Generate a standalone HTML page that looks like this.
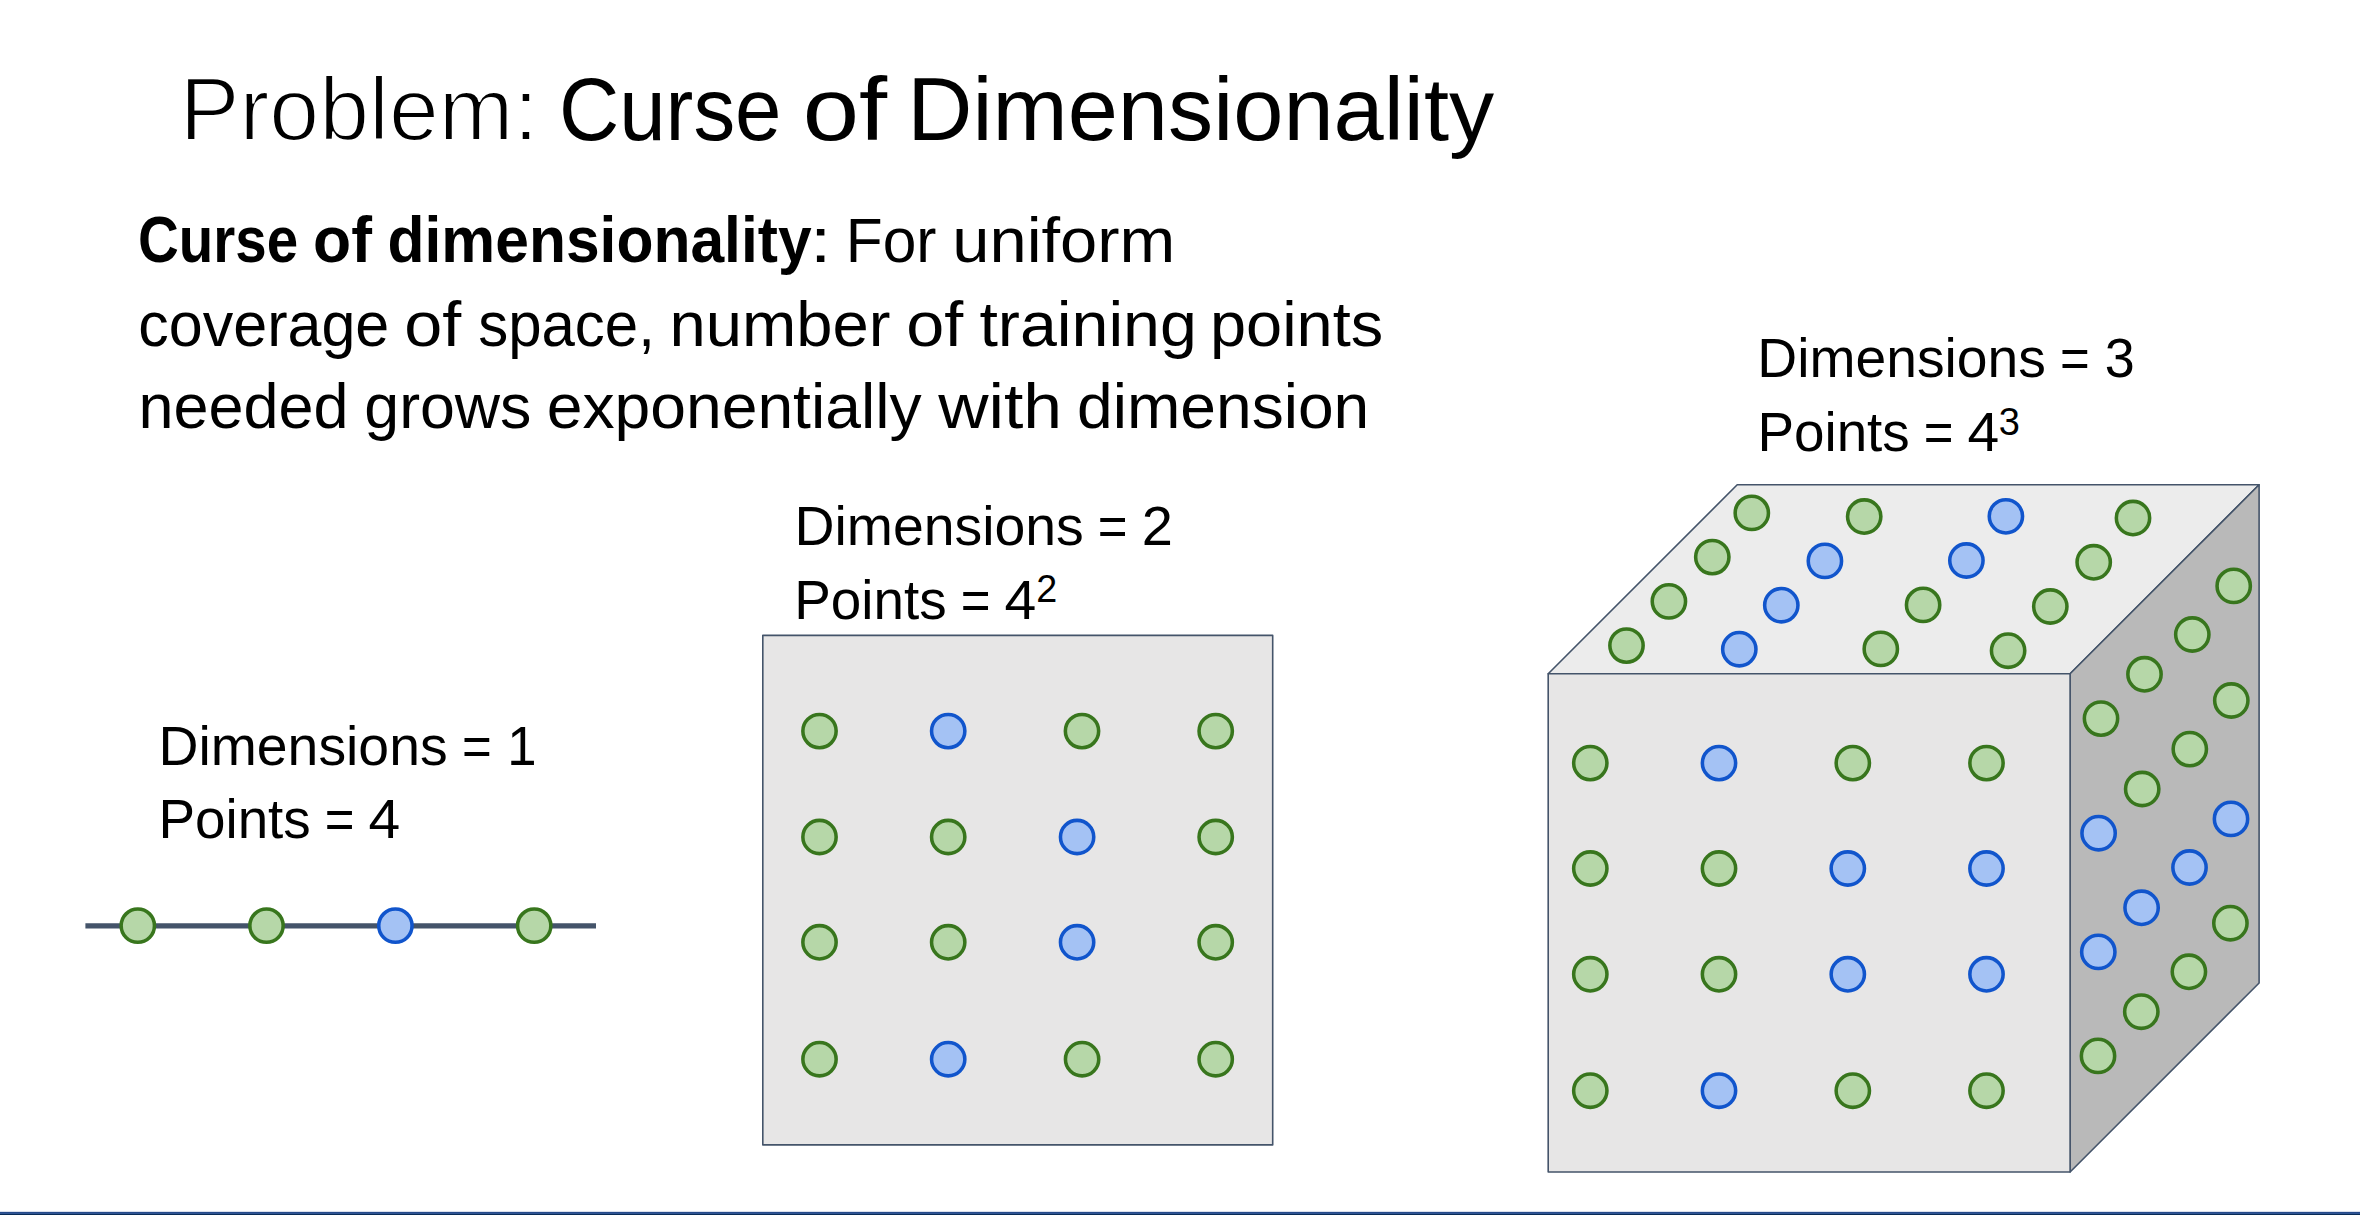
<!DOCTYPE html>
<html lang="en"><head><meta charset="utf-8"><title>Problem: Curse of Dimensionality</title>
<style>
html,body{margin:0;padding:0;background:#fff}
body{width:2360px;height:1215px;position:relative;overflow:hidden;font-family:"Liberation Sans",sans-serif}
</style></head><body>
<svg width="2360" height="1215" viewBox="0 0 2360 1215" style="position:absolute;left:0;top:0">
<line x1="85.4" y1="925.9" x2="596" y2="925.9" stroke="#44546a" stroke-width="5.4"/>
<circle cx="137.8" cy="925.65" r="16.65" fill="#b6d7a8" stroke="#38761d" stroke-width="3.55"/>
<circle cx="266.5" cy="925.65" r="16.65" fill="#b6d7a8" stroke="#38761d" stroke-width="3.55"/>
<circle cx="395.4" cy="925.65" r="16.65" fill="#a4c2f4" stroke="#1155cc" stroke-width="3.55"/>
<circle cx="534.2" cy="925.65" r="16.65" fill="#b6d7a8" stroke="#38761d" stroke-width="3.55"/>
<rect x="762.8" y="635.4" width="509.9" height="509.5" fill="#e7e6e6" stroke="#44546a" stroke-width="1.6" stroke-linejoin="round"/>
<circle cx="819.5" cy="731.1" r="16.65" fill="#b6d7a8" stroke="#38761d" stroke-width="3.55"/>
<circle cx="948.2" cy="731.1" r="16.65" fill="#a4c2f4" stroke="#1155cc" stroke-width="3.55"/>
<circle cx="1082" cy="731.1" r="16.65" fill="#b6d7a8" stroke="#38761d" stroke-width="3.55"/>
<circle cx="1215.7" cy="731.1" r="16.65" fill="#b6d7a8" stroke="#38761d" stroke-width="3.55"/>
<circle cx="819.5" cy="837" r="16.65" fill="#b6d7a8" stroke="#38761d" stroke-width="3.55"/>
<circle cx="948.2" cy="837" r="16.65" fill="#b6d7a8" stroke="#38761d" stroke-width="3.55"/>
<circle cx="1077.1" cy="837" r="16.65" fill="#a4c2f4" stroke="#1155cc" stroke-width="3.55"/>
<circle cx="1215.7" cy="837" r="16.65" fill="#b6d7a8" stroke="#38761d" stroke-width="3.55"/>
<circle cx="819.5" cy="942.3" r="16.65" fill="#b6d7a8" stroke="#38761d" stroke-width="3.55"/>
<circle cx="948.2" cy="942.3" r="16.65" fill="#b6d7a8" stroke="#38761d" stroke-width="3.55"/>
<circle cx="1077.1" cy="942.3" r="16.65" fill="#a4c2f4" stroke="#1155cc" stroke-width="3.55"/>
<circle cx="1215.7" cy="942.3" r="16.65" fill="#b6d7a8" stroke="#38761d" stroke-width="3.55"/>
<circle cx="819.5" cy="1059.2" r="16.65" fill="#b6d7a8" stroke="#38761d" stroke-width="3.55"/>
<circle cx="948.2" cy="1059.2" r="16.65" fill="#a4c2f4" stroke="#1155cc" stroke-width="3.55"/>
<circle cx="1082.1" cy="1059.2" r="16.65" fill="#b6d7a8" stroke="#38761d" stroke-width="3.55"/>
<circle cx="1215.7" cy="1059.2" r="16.65" fill="#b6d7a8" stroke="#38761d" stroke-width="3.55"/>
<polygon points="1548.2,673.75 1737.2,484.80 2259.1,484.80 2070.1,673.75" fill="#ececec" stroke="#44546a" stroke-width="1.6" stroke-linejoin="round"/>
<polygon points="2070.1,673.75 2259.1,484.80 2259.1,983.00 2070.1,1171.95" fill="#b9b9b9" stroke="#44546a" stroke-width="1.6" stroke-linejoin="round"/>
<rect x="1548.2" y="673.75" width="521.9" height="498.2" fill="#e7e6e6" stroke="#44546a" stroke-width="1.6" stroke-linejoin="round"/>
<circle cx="1590.3" cy="763.1" r="16.65" fill="#b6d7a8" stroke="#38761d" stroke-width="3.55"/>
<circle cx="1719" cy="763.1" r="16.65" fill="#a4c2f4" stroke="#1155cc" stroke-width="3.55"/>
<circle cx="1852.8" cy="763.1" r="16.65" fill="#b6d7a8" stroke="#38761d" stroke-width="3.55"/>
<circle cx="1986.5" cy="763.1" r="16.65" fill="#b6d7a8" stroke="#38761d" stroke-width="3.55"/>
<circle cx="1590.3" cy="868.5" r="16.65" fill="#b6d7a8" stroke="#38761d" stroke-width="3.55"/>
<circle cx="1719" cy="868.5" r="16.65" fill="#b6d7a8" stroke="#38761d" stroke-width="3.55"/>
<circle cx="1847.8" cy="868.5" r="16.65" fill="#a4c2f4" stroke="#1155cc" stroke-width="3.55"/>
<circle cx="1986.5" cy="868.5" r="16.65" fill="#a4c2f4" stroke="#1155cc" stroke-width="3.55"/>
<circle cx="1590.3" cy="974.3" r="16.65" fill="#b6d7a8" stroke="#38761d" stroke-width="3.55"/>
<circle cx="1719" cy="974.3" r="16.65" fill="#b6d7a8" stroke="#38761d" stroke-width="3.55"/>
<circle cx="1847.8" cy="974.3" r="16.65" fill="#a4c2f4" stroke="#1155cc" stroke-width="3.55"/>
<circle cx="1986.5" cy="974.3" r="16.65" fill="#a4c2f4" stroke="#1155cc" stroke-width="3.55"/>
<circle cx="1590.3" cy="1090.7" r="16.65" fill="#b6d7a8" stroke="#38761d" stroke-width="3.55"/>
<circle cx="1719" cy="1090.7" r="16.65" fill="#a4c2f4" stroke="#1155cc" stroke-width="3.55"/>
<circle cx="1852.8" cy="1090.7" r="16.65" fill="#b6d7a8" stroke="#38761d" stroke-width="3.55"/>
<circle cx="1986.5" cy="1090.7" r="16.65" fill="#b6d7a8" stroke="#38761d" stroke-width="3.55"/>
<circle cx="1751.8" cy="512.9" r="16.65" fill="#b6d7a8" stroke="#38761d" stroke-width="3.55"/>
<circle cx="1864.2" cy="516.5" r="16.65" fill="#b6d7a8" stroke="#38761d" stroke-width="3.55"/>
<circle cx="2005.9" cy="516.3" r="16.65" fill="#a4c2f4" stroke="#1155cc" stroke-width="3.55"/>
<circle cx="2133.0" cy="518.0" r="16.65" fill="#b6d7a8" stroke="#38761d" stroke-width="3.55"/>
<circle cx="1712.3" cy="557.1" r="16.65" fill="#b6d7a8" stroke="#38761d" stroke-width="3.55"/>
<circle cx="1824.9" cy="560.9" r="16.65" fill="#a4c2f4" stroke="#1155cc" stroke-width="3.55"/>
<circle cx="1966.4" cy="560.5" r="16.65" fill="#a4c2f4" stroke="#1155cc" stroke-width="3.55"/>
<circle cx="2093.7" cy="562.3" r="16.65" fill="#b6d7a8" stroke="#38761d" stroke-width="3.55"/>
<circle cx="1668.9" cy="601.4" r="16.65" fill="#b6d7a8" stroke="#38761d" stroke-width="3.55"/>
<circle cx="1781.3" cy="605.2" r="16.65" fill="#a4c2f4" stroke="#1155cc" stroke-width="3.55"/>
<circle cx="1923.1" cy="604.9" r="16.65" fill="#b6d7a8" stroke="#38761d" stroke-width="3.55"/>
<circle cx="2050.3" cy="606.5" r="16.65" fill="#b6d7a8" stroke="#38761d" stroke-width="3.55"/>
<circle cx="1626.5" cy="645.6" r="16.65" fill="#b6d7a8" stroke="#38761d" stroke-width="3.55"/>
<circle cx="1739.3" cy="649.2" r="16.65" fill="#a4c2f4" stroke="#1155cc" stroke-width="3.55"/>
<circle cx="1880.8" cy="648.9" r="16.65" fill="#b6d7a8" stroke="#38761d" stroke-width="3.55"/>
<circle cx="2008.1" cy="650.7" r="16.65" fill="#b6d7a8" stroke="#38761d" stroke-width="3.55"/>
<circle cx="2101.0" cy="718.6" r="16.65" fill="#b6d7a8" stroke="#38761d" stroke-width="3.55"/>
<circle cx="2144.5" cy="674.3" r="16.65" fill="#b6d7a8" stroke="#38761d" stroke-width="3.55"/>
<circle cx="2192.3" cy="634.5" r="16.65" fill="#b6d7a8" stroke="#38761d" stroke-width="3.55"/>
<circle cx="2233.7" cy="585.9" r="16.65" fill="#b6d7a8" stroke="#38761d" stroke-width="3.55"/>
<circle cx="2098.6" cy="833.2" r="16.65" fill="#a4c2f4" stroke="#1155cc" stroke-width="3.55"/>
<circle cx="2142.2" cy="789.0" r="16.65" fill="#b6d7a8" stroke="#38761d" stroke-width="3.55"/>
<circle cx="2189.8" cy="749.1" r="16.65" fill="#b6d7a8" stroke="#38761d" stroke-width="3.55"/>
<circle cx="2231.3" cy="700.5" r="16.65" fill="#b6d7a8" stroke="#38761d" stroke-width="3.55"/>
<circle cx="2098.3" cy="951.9" r="16.65" fill="#a4c2f4" stroke="#1155cc" stroke-width="3.55"/>
<circle cx="2141.6" cy="907.8" r="16.65" fill="#a4c2f4" stroke="#1155cc" stroke-width="3.55"/>
<circle cx="2189.5" cy="867.5" r="16.65" fill="#a4c2f4" stroke="#1155cc" stroke-width="3.55"/>
<circle cx="2231.0" cy="818.9" r="16.65" fill="#a4c2f4" stroke="#1155cc" stroke-width="3.55"/>
<circle cx="2098.0" cy="1055.9" r="16.65" fill="#b6d7a8" stroke="#38761d" stroke-width="3.55"/>
<circle cx="2141.3" cy="1011.7" r="16.65" fill="#b6d7a8" stroke="#38761d" stroke-width="3.55"/>
<circle cx="2188.9" cy="971.8" r="16.65" fill="#b6d7a8" stroke="#38761d" stroke-width="3.55"/>
<circle cx="2230.4" cy="923.2" r="16.65" fill="#b6d7a8" stroke="#38761d" stroke-width="3.55"/>
<g shape-rendering="crispEdges"><rect x="0" y="1211" width="2360" height="1" fill="#dadfec"/><rect x="0" y="1212" width="2360" height="1" fill="#254a8b"/><rect x="0" y="1213" width="2360" height="1" fill="#305494"/><rect x="0" y="1214" width="2360" height="1" fill="#082b56"/></g>
<g font-family="'Liberation Sans', sans-serif" fill="#000">
<text id="t1" y="139.9" font-size="89" font-weight="400" stroke="#fff" stroke-width="2"><tspan id="t1_0" x="179.71" textLength="358.62" lengthAdjust="spacingAndGlyphs">Problem:</tspan></text>
<text id="t2" y="139.7" font-size="89" font-weight="400"><tspan id="t2_0" x="558.89" textLength="222.66" lengthAdjust="spacingAndGlyphs">Curse</tspan> <tspan id="t2_1" x="802.73" textLength="84.35" lengthAdjust="spacingAndGlyphs">of</tspan> <tspan id="t2_2" x="907.29" textLength="586.79" lengthAdjust="spacingAndGlyphs">Dimensionality</tspan></text>
<text id="b1" y="261.9" font-size="64" font-weight="700"><tspan id="b1_0" x="138.01" textLength="160.07" lengthAdjust="spacingAndGlyphs">Curse</tspan> <tspan id="b1_1" x="313.04" textLength="58.88" lengthAdjust="spacingAndGlyphs">of</tspan> <tspan id="b1_2" x="387.56" textLength="424.06" lengthAdjust="spacingAndGlyphs">dimensionality</tspan></text>
<text id="b1c" y="261.9" font-size="63" font-weight="400"><tspan id="b1c_0" x="809.83" textLength="21.82" lengthAdjust="spacingAndGlyphs">:</tspan></text>
<text id="b1b" y="261.9" font-size="63" font-weight="400"><tspan id="b1b_0" x="845.87" textLength="90.62" lengthAdjust="spacingAndGlyphs">For</tspan> <tspan id="b1b_1" x="952.34" textLength="222.91" lengthAdjust="spacingAndGlyphs">uniform</tspan></text>
<text id="b2" y="346.0" font-size="63" font-weight="400"><tspan id="b2_0" x="138.3" textLength="250.99" lengthAdjust="spacingAndGlyphs">coverage</tspan> <tspan id="b2_1" x="404.16" textLength="57.03" lengthAdjust="spacingAndGlyphs">of</tspan> <tspan id="b2_2" x="478.16" textLength="176.7" lengthAdjust="spacingAndGlyphs">space,</tspan> <tspan id="b2_3" x="669.59" textLength="220.91" lengthAdjust="spacingAndGlyphs">number</tspan> <tspan id="b2_4" x="906.16" textLength="57.03" lengthAdjust="spacingAndGlyphs">of</tspan> <tspan id="b2_5" x="979.41" textLength="217.47" lengthAdjust="spacingAndGlyphs">training</tspan> <tspan id="b2_6" x="1209.97" textLength="173.25" lengthAdjust="spacingAndGlyphs">points</tspan></text>
<text id="b3" y="428.1" font-size="63" font-weight="400"><tspan id="b3_0" x="138.49" textLength="209.95" lengthAdjust="spacingAndGlyphs">needed</tspan> <tspan id="b3_1" x="364.29" textLength="167.16" lengthAdjust="spacingAndGlyphs">grows</tspan> <tspan id="b3_2" x="546.73" textLength="374.86" lengthAdjust="spacingAndGlyphs">exponentially</tspan> <tspan id="b3_3" x="938.16" textLength="123.97" lengthAdjust="spacingAndGlyphs">with</tspan> <tspan id="b3_4" x="1077.08" textLength="292.2" lengthAdjust="spacingAndGlyphs">dimension</tspan></text>
<text id="l1a" y="764.8" font-size="56" font-weight="400"><tspan id="l1a_0" x="158.43" textLength="289.22" lengthAdjust="spacingAndGlyphs">Dimensions</tspan> <tspan id="l1a_1" x="461.92" textLength="29.76" lengthAdjust="spacingAndGlyphs">=</tspan> <tspan id="l1a_2" x="507.23" textLength="29.29" lengthAdjust="spacingAndGlyphs">1</tspan></text>
<text id="l1b" y="837.7" font-size="56" font-weight="400"><tspan id="l1b_0" x="158.47" textLength="152.25" lengthAdjust="spacingAndGlyphs">Points</tspan> <tspan id="l1b_1" x="324.66" textLength="29.74" lengthAdjust="spacingAndGlyphs">=</tspan> <tspan id="l1b_2" x="368.44" textLength="31.71" lengthAdjust="spacingAndGlyphs">4</tspan></text>
<text id="l2a" y="544.8" font-size="56" font-weight="400"><tspan id="l2a_0" x="794.43" textLength="289.4" lengthAdjust="spacingAndGlyphs">Dimensions</tspan> <tspan id="l2a_1" x="1097.8" textLength="29.76" lengthAdjust="spacingAndGlyphs">=</tspan> <tspan id="l2a_2" x="1141.79" textLength="31.13" lengthAdjust="spacingAndGlyphs">2</tspan></text>
<text id="l2b" y="618.8" font-size="56" font-weight="400"><tspan id="l2b_0" x="794.24" textLength="152.29" lengthAdjust="spacingAndGlyphs">Points</tspan> <tspan id="l2b_1" x="960.75" textLength="29.76" lengthAdjust="spacingAndGlyphs">=</tspan> <tspan id="l2b_2" x="1004.55" textLength="31.76" lengthAdjust="spacingAndGlyphs">4</tspan></text>
<text id="l3a" y="376.5" font-size="56" font-weight="400"><tspan id="l3a_0" x="1757.35" textLength="288.44" lengthAdjust="spacingAndGlyphs">Dimensions</tspan> <tspan id="l3a_1" x="2059.99" textLength="29.74" lengthAdjust="spacingAndGlyphs">=</tspan> <tspan id="l3a_2" x="2104.69" textLength="29.98" lengthAdjust="spacingAndGlyphs">3</tspan></text>
<text id="l3b" y="450.6" font-size="56" font-weight="400"><tspan id="l3b_0" x="1757.47" textLength="152.25" lengthAdjust="spacingAndGlyphs">Points</tspan> <tspan id="l3b_1" x="1923.66" textLength="29.74" lengthAdjust="spacingAndGlyphs">=</tspan> <tspan id="l3b_2" x="1967.44" textLength="31.71" lengthAdjust="spacingAndGlyphs">4</tspan></text>
<text id="l2c" y="601.9" font-size="38" font-weight="400"><tspan id="l2c_0" x="1036.16" textLength="21.0" lengthAdjust="spacingAndGlyphs">2</tspan></text>
<text id="l3c" y="434.7" font-size="38" font-weight="400"><tspan id="l3c_0" x="1998.65" textLength="21.15" lengthAdjust="spacingAndGlyphs">3</tspan></text>
</g>
</svg>
</body></html>
